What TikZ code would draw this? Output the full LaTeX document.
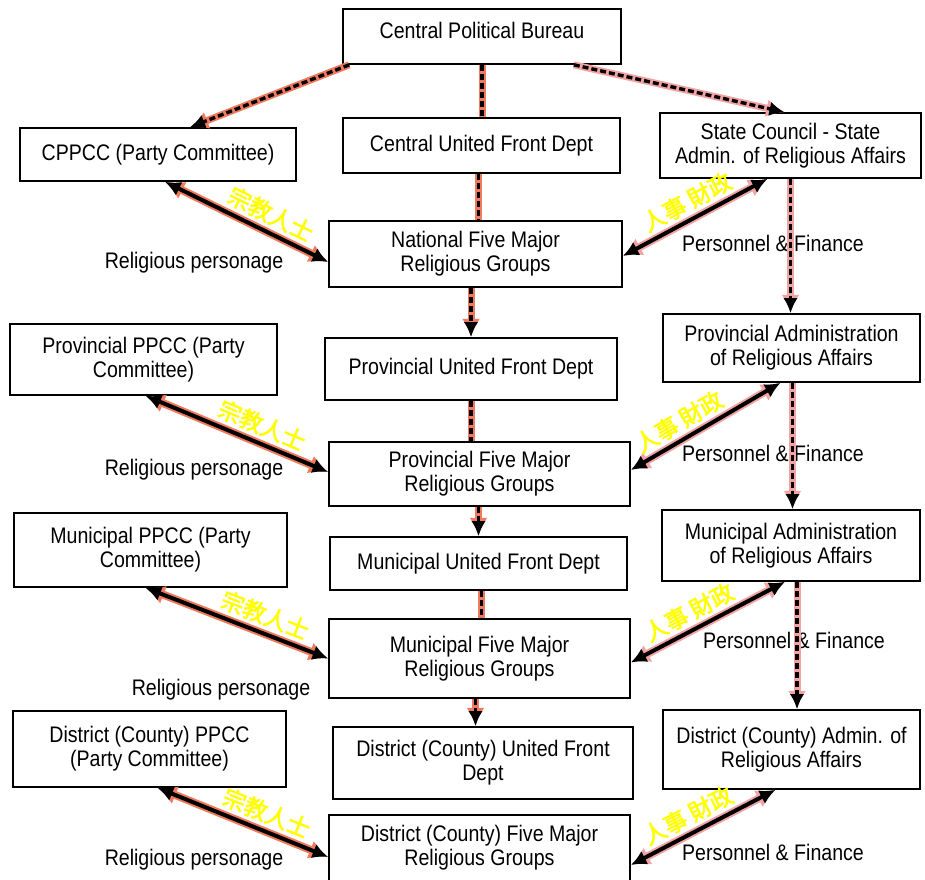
\documentclass[tikz,border=0pt]{standalone}
\usepackage{fontspec}
\setmainfont{Liberation Sans}[FakeStretch=0.87]
\newfontfamily\cjk{Noto Sans CJK TC}[FakeBold=2.5]
\usetikzlibrary{arrows.meta}
\definecolor{mysalmon}{HTML}{F07A5E}
\definecolor{mypink}{HTML}{F2A3A3}
\definecolor{myyellow}{HTML}{FFFF00}

\tikzset{
  box/.style={draw, line width=1.6pt, fill=white, align=center, inner sep=2pt,
    font=\fontsize{22.5}{24}\selectfont},
  lbl/.style={font=\fontsize{22.5}{24}\selectfont},
  cjklbl/.style={font=\cjk\fontsize{23}{23}\selectfont, text=myyellow,
    sloped, above=4pt, inner sep=1pt},
  solidlink/.style={line width=4pt, preaction={draw=#1, line width=8pt}},
  dashlink/.style={line width=3.4pt, dash pattern=on 6pt off 3pt,
    preaction={draw=#1, line width=7pt, solid}},
}

\begin{document}
\begin{tikzpicture}[x=1pt, y=-1pt, >={Latex[length=12pt 0.9, width=11pt 1.0]}]

      \useasboundingbox (0,0) rectangle (925,879);

      % central level
      \node [box, name=cpb, minimum width=278pt, minimum height=55pt] at (482,36.5) {\raisebox{12pt}{Central Political Bureau}};
      \node [box, name=cppcc, minimum width=276pt, minimum height=53pt] at (158,154.5) {CPPCC (Party Committee)};
      \node [box, name=cufd, minimum width=277pt, minimum height=55pt] at (481.5,145.5) {Central United Front Dept};
      \node [box, name=sara, minimum width=261pt, minimum height=65pt] at (790.5,145.5) {State Council - State\\Admin. of Religious Affairs};
      \node [box, name=nat5, minimum width=293pt, minimum height=66pt] at (475.5,254) {National Five Major\\Religious Groups};

      % provincial level
      \node [box, name=ppcc, minimum width=267pt, minimum height=71pt] at (143.5,359.5) {Provincial PPCC (Party\\Committee)};
      \node [box, name=pufd, minimum width=292pt, minimum height=62pt] at (471,369) {Provincial United Front Dept};
      \node [box, name=para, minimum width=257pt, minimum height=68pt] at (791.5,348) {Provincial Administration\\of Religious Affairs};
      \node [box, name=prov5, minimum width=301pt, minimum height=64pt] at (479.5,474) {Provincial Five Major\\Religious Groups};

      % municipal level
      \node [box, name=mppcc, minimum width=273pt, minimum height=74pt] at (150.5,550) {Municipal PPCC (Party\\Committee)};
      \node [box, name=mufd, minimum width=297pt, minimum height=53pt] at (478.5,563.5) {Municipal United Front Dept};
      \node [box, name=mara, minimum width=258pt, minimum height=71pt] at (791,545.5) {Municipal Administration\\of Religious Affairs};
      \node [box, name=mun5, minimum width=301pt, minimum height=79pt] at (479.5,658.5) {Municipal Five Major\\Religious Groups};

      % district level
      \node [box, name=dppcc, minimum width=273pt, minimum height=76pt] at (149.5,749) {District (County) PPCC\\(Party Committee)};
      \node [box, name=dufd, minimum width=300pt, minimum height=72pt] at (483,763) {District (County) United Front\\Dept};
      \node [box, name=dara, minimum width=257pt, minimum height=79pt] at (791.5,749.5) {District (County) Admin. of\\Religious Affairs};
      \node [box, name=dist5, minimum width=301pt, minimum height=66pt] at (479.5,848) {District (County) Five Major\\Religious Groups};

      % side labels
      \node [lbl, name=rp1] at (194,263) {Religious personage};
      \node [lbl, name=rp2] at (194,470) {Religious personage};
      \node [lbl, name=rp3] at (221,690) {Religious personage};
      \node [lbl, name=rp4] at (194,860) {Religious personage};
      \node [lbl, name=pf1] at (773,243) {Personnel \& Finance};
      \node [lbl, name=pf2] at (773,453) {Personnel \& Finance};
      \node [lbl, name=pf3] at (794,640) {Personnel \& Finance};
      \node [lbl, name=pf4] at (773,852) {Personnel \& Finance};

      % top down
      \draw [dashlink=mysalmon, ->] ([xshift=7pt]cpb.south west) -- ([xshift=32pt]cppcc.north);
      \draw [dashlink=mypink, ->] ([xshift=-48pt]cpb.south east) -- ([xshift=-6pt]sara.north);
      \draw [dashlink=mysalmon] (cpb.south) -- (cpb.south |- cufd.north);

      % united front column
      \draw [dashlink=mysalmon] ([xshift=-3pt]cufd.south) -- ([xshift=3pt]nat5.north);
      \draw [dashlink=mysalmon, ->] (nat5.south -| pufd) -- (pufd.north);
      \draw [dashlink=mysalmon] (pufd.south) -- (pufd.south |- prov5.north);
      \draw [dashlink=mysalmon, ->] (prov5.south -| mufd) -- (mufd.north);
      \draw [dashlink=mysalmon] ([xshift=3pt]mufd.south) -- ([xshift=3pt]mufd.south |- mun5.north);
      \draw [dashlink=mysalmon, ->] ([xshift=-4pt]mun5.south) -- ([xshift=-4pt]mun5.south |- dufd.north);

      % administration column
      \draw [dashlink=mypink, ->] (sara.south) -- (sara.south |- para.north);
      \draw [dashlink=mypink, ->] ([xshift=1pt]para.south) -- ([xshift=1pt]para.south |- mara.north);
      \draw [dashlink=mypink, ->] ([xshift=6pt]mara.south) -- ([xshift=6pt]mara.south |- dara.north);

      % religious personage
      \draw [solidlink=mysalmon, <->] ([xshift=7pt]cppcc.south) -- node [cjklbl, pos=0.6] {宗教人士} ([yshift=-8pt]nat5.west);
      \draw [solidlink=mysalmon, <->] ([xshift=2pt]ppcc.south) -- node [cjklbl, pos=0.6] {宗教人士} ([yshift=2pt]prov5.west);
      \draw [solidlink=mysalmon, <->] ([xshift=-5pt]mppcc.south) -- node [cjklbl, pos=0.62] {宗教人士} (mun5.west);
      \draw [solidlink=mysalmon, <->] ([xshift=8pt]dppcc.south) -- node [cjklbl, pos=0.6] {宗教人士} ([yshift=-9pt]dist5.west);

      % personnel and finance
      \draw [solidlink=mypink, <->] ([xshift=-23pt]sara.south) -- node [cjklbl, pos=0.5] {人事 財政} ([yshift=-2pt]nat5.east);
      \draw [solidlink=mypink, <->] ([xshift=-11pt]para.south) -- node [cjklbl, pos=0.62] {人事 財政} ([yshift=4pt]prov5.east);
      \draw [solidlink=mypink, <->] ([xshift=-6pt]mara.south) -- node [cjklbl, pos=0.57] {人事 財政} ([yshift=-4pt]mun5.east);
      \draw [solidlink=mypink, <->] ([xshift=-16pt]dara.south) -- node [cjklbl, pos=0.55] {人事 財政} ([yshift=-17pt]dist5.east);

\end{tikzpicture}
\end{document}
